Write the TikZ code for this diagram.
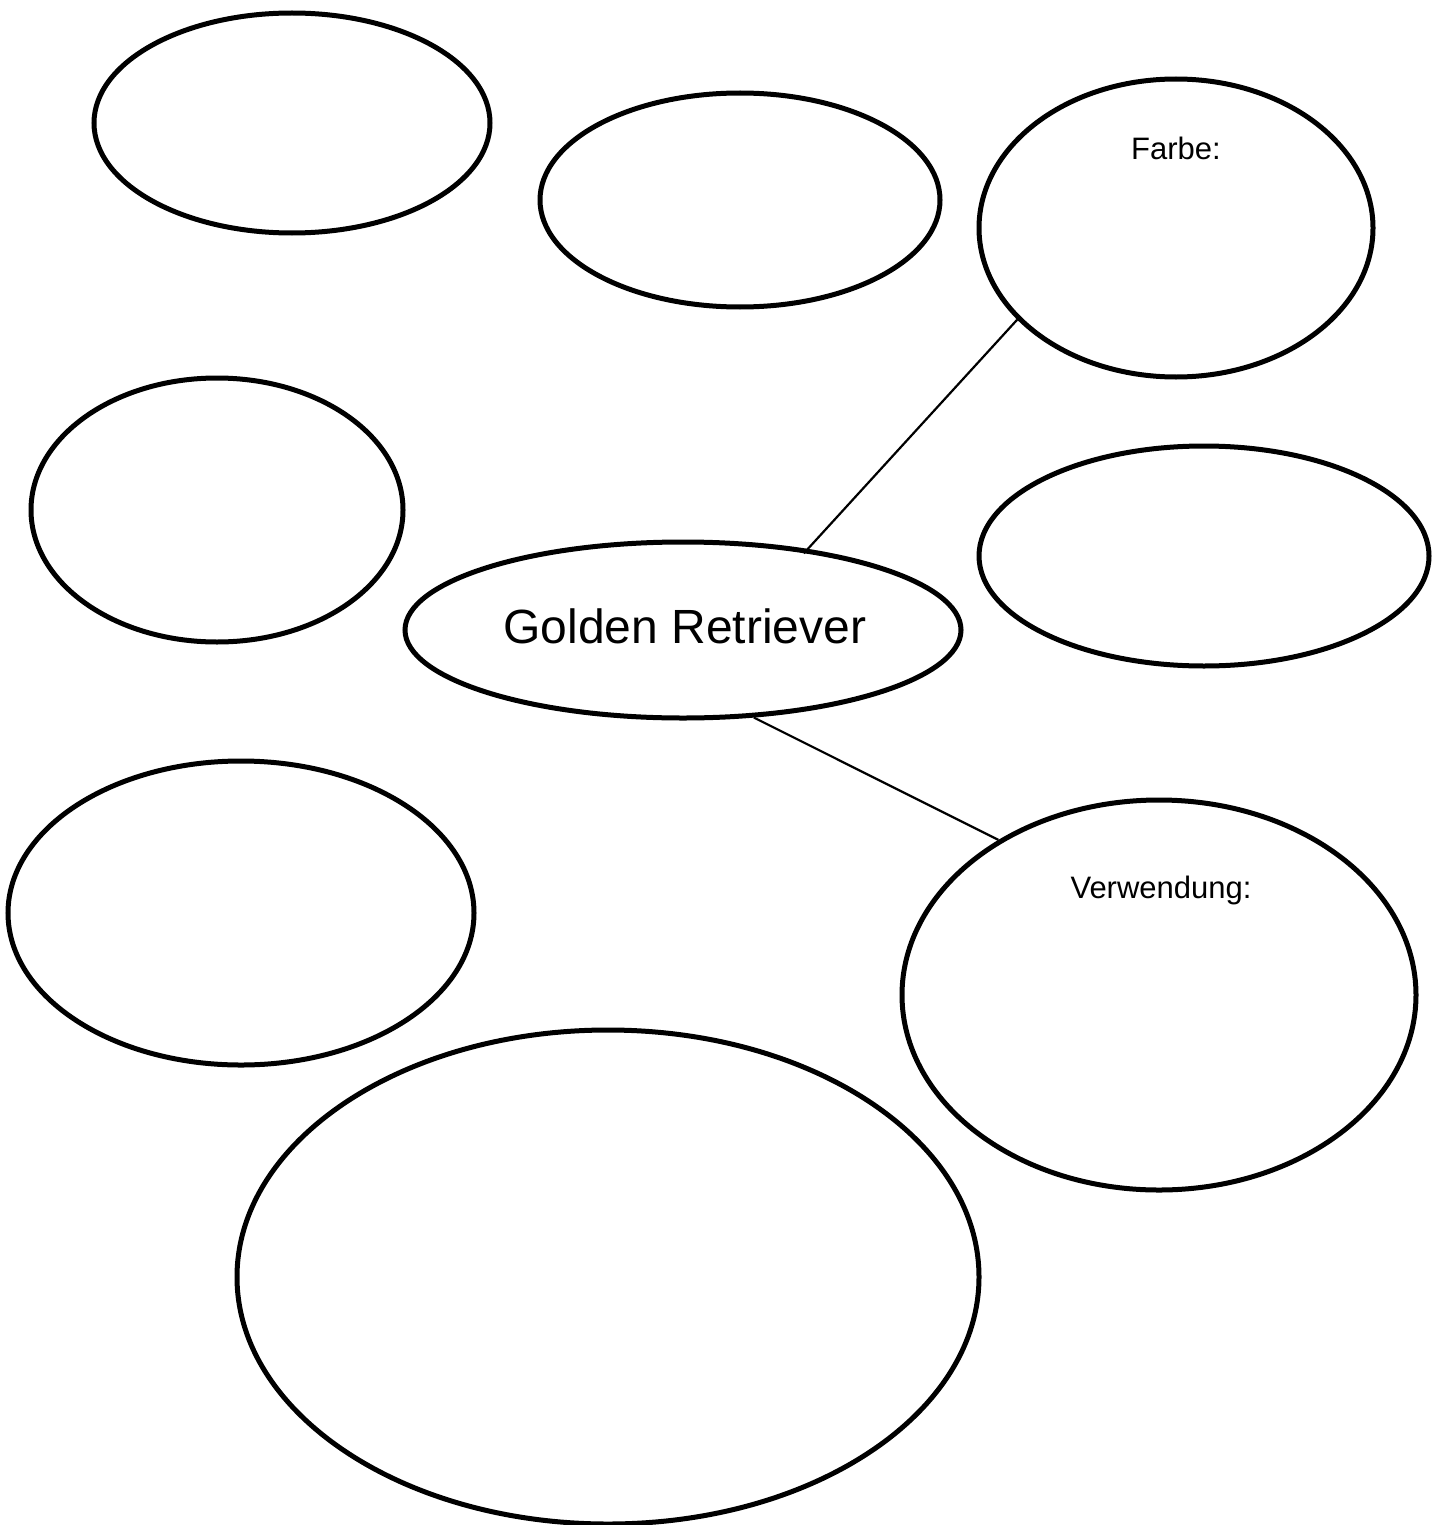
\documentclass[tikz,border=0pt]{standalone}
\usepackage{fontspec}
\setmainfont{Liberation Sans}
\usetikzlibrary{shapes.geometric}
\begin{document}
\begin{tikzpicture}[x=1pt,y=-1pt,
  bubble/.style={draw=black, line width=5pt, ellipse, inner sep=0pt},
  link/.style={draw=black, line width=2.2pt},
  lbl/.style={inner sep=0pt, font=\fontsize{31}{37}\selectfont}]
\useasboundingbox (0,0) rectangle (1439,1525);
\node[bubble, minimum width=396pt, minimum height=220pt] (e1) at (292,123) {};
\node[bubble, minimum width=400pt, minimum height=214pt] (e2) at (740,200) {};
\node[bubble, minimum width=394pt, minimum height=298pt] (farbe) at (1176,228) {};
\node[bubble, minimum width=372pt, minimum height=264pt] (e4) at (217,510) {};
\node[bubble, minimum width=450pt, minimum height=220pt] (e5) at (1204,556) {};
\node[bubble, minimum width=556pt, minimum height=176pt] (gr) at (683,630) {};
\node[bubble, minimum width=466pt, minimum height=304pt] (e7) at (241,913) {};
\node[bubble, minimum width=514pt, minimum height=390pt] (verw) at (1159,995) {};
\node[bubble, minimum width=742pt, minimum height=494pt] (e9) at (608,1277) {};
\node[inner sep=0pt, font=\fontsize{48}{56}\selectfont] (grt) at (685,626) {Golden Retriever};
\node[lbl] (farbet) at (1176,148) {Farbe:};
\node[lbl] (verwt) at (1161,890) {Verwendung:};
\draw[link, shorten <=-6pt] (gr.33) -- (farbe.210);
\draw[link] (gr.-51) -- (verw.136);
\end{tikzpicture}
\end{document}
